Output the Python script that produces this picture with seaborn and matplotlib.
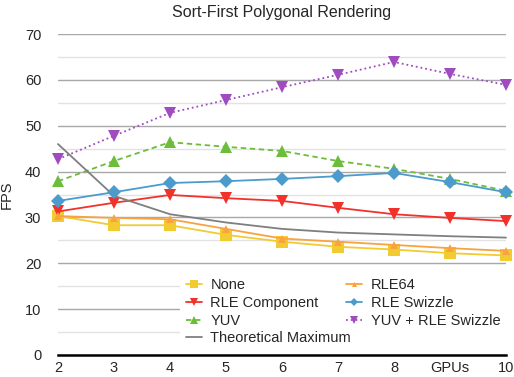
import matplotlib
matplotlib.use("Agg")
import matplotlib.pyplot as plt
import seaborn as sns
import pandas as pd

# dados
gpus = [2, 3, 4, 5, 6, 7, 8, 9, 10]
none_fps = [30.3, 28.3, 28.3, 26.2, 24.7, 23.6, 23.0, 22.2, 21.7]
rle_component = [31.3, 33.2, 34.9, 34.2, 33.6, 32.1, 30.7, 29.9, 29.2]
yuv = [37.9, 42.3, 46.4, 45.4, 44.5, 42.3, 40.6, 38.4, 35.8]
theoretical_max = [46.0, 34.7, 30.7, 28.9, 27.5, 26.7, 26.3, 25.9, 25.6]
rle64 = [30.3, 29.9, 29.6, 27.5, 25.4, 24.7, 24.0, 23.3, 22.7]
rle_swizzle = [33.6, 35.5, 37.5, 37.9, 38.4, 39.0, 39.7, 37.7, 35.5]
yuv_rle_swizzle = [42.7, 47.8, 52.8, 55.6, 58.4, 61.1, 63.9, 61.3, 58.9]

xtick_labels = ["2", "3", "4", "5", "6", "7", "8", "GPUs", "10"]
yticks = [0, 10, 20, 30, 40, 50, 60, 70]

sns.set_style("white")
plt.rcParams['font.family'] = ['Liberation Sans', 'DejaVu Sans']

fig = plt.figure(figsize=(5.14, 3.77), dpi=100)
ax = fig.add_axes([58 / 514, 22 / 377, 448 / 514, 321 / 377])

# (label, valores, cor, marcador, tamanho, estilo)
series = [
    ("None", none_fps, "#F2CB30", "s", 8.5, "-"),
    ("RLE Component", rle_component, "#F2312B", "v", 9, "-"),
    ("YUV", yuv, "#6CBD3A", "^", 9, (0, (3, 2))),
    ("Theoretical Maximum", theoretical_max, "#7F7F7F", None, 0, "-"),
    ("RLE64", rle64, "#F9A340", "^", 6, "-"),
    ("RLE Swizzle", rle_swizzle, "#4B9BCC", "D", 7.5, "-"),
    ("YUV + RLE Swizzle", yuv_rle_swizzle, "#A04CC0", "v", 9, ":"),
]

for label, vals, cor, mk, ms, ls in series:
    df = pd.DataFrame({"GPUs": gpus, "FPS": vals})
    sns.lineplot(data=df, x="GPUs", y="FPS", ax=ax, color=cor, marker=mk,
                 markersize=ms, markeredgewidth=0, linestyle=ls, linewidth=1.3,
                 label=label, clip_on=False)

ax.set_xlim(2, 10)
ax.set_ylim(0, 70)
ax.set_xticks(gpus)
ax.set_xticklabels(xtick_labels)
ax.set_yticks(yticks)
ax.set_yticks([5, 15, 25, 35, 45, 55, 65], minor=True)
ax.grid(True, which="major", axis="y", color="#A8A8A8", linewidth=1.0)
ax.grid(True, which="minor", axis="y", color="#E2E2E2", linewidth=1.0)
ax.grid(False, axis="x")
ax.set_axisbelow(True)
ax.tick_params(axis="both", which="both", length=0, labelsize=10.5)
ax.tick_params(axis="y", pad=12)
ax.tick_params(axis="x", pad=4)

for s in ["left", "right", "top"]:
    ax.spines[s].set_visible(False)
ax.spines["bottom"].set_color("black")
ax.spines["bottom"].set_linewidth(1.8)

ax.set_xlabel("")
ax.set_ylabel("FPS", fontsize=10.5, labelpad=8)
ax.set_title("Sort-First Polygonal Rendering", fontsize=11.5, pad=12)

leg = ax.legend(loc="upper left", bbox_to_anchor=(0.272, 0.0, 0.728, 0.257),
                mode="expand", ncol=2, borderaxespad=0, fontsize=10.5,
                frameon=True, fancybox=False, framealpha=1, edgecolor="none",
                facecolor="white", handlelength=1.1, handletextpad=0.6,
                labelspacing=0.25, markerscale=0.6)

plt.savefig("out.png", dpi=100)
